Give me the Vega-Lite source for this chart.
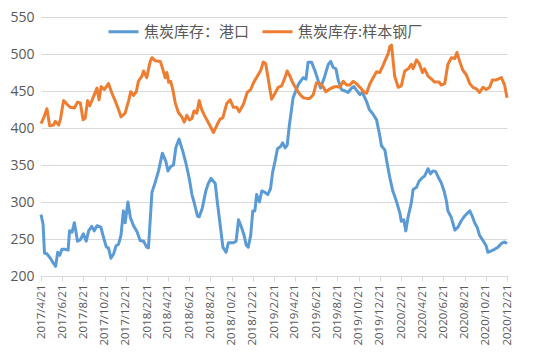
{
  "$schema": "https://vega.github.io/schema/vega-lite/v6.json",
  "autosize": {"type": "none"},
  "padding": {"left": 41, "top": 17, "right": 43, "bottom": 83},
  "width": 466,
  "height": 259,
  "background": "white",
  "config": {"view": {"stroke": null}, "font": "Noto Sans CJK SC"},
  "datasets": {
    "g": [
      {"d":"2017-04-21","v":406},{"d":"2017-04-29","v":414},{"d":"2017-05-08","v":426},{"d":"2017-05-16","v":403},{"d":"2017-05-27","v":404},{"d":"2017-06-01","v":409},{"d":"2017-06-11","v":404},{"d":"2017-06-16","v":412},{"d":"2017-06-25","v":437},{"d":"2017-07-05","v":432},{"d":"2017-07-14","v":428},{"d":"2017-07-26","v":427},{"d":"2017-08-04","v":435},{"d":"2017-08-12","v":434},{"d":"2017-08-20","v":411},{"d":"2017-08-26","v":413},{"d":"2017-09-02","v":437},{"d":"2017-09-08","v":430},{"d":"2017-09-17","v":440},{"d":"2017-09-29","v":454},{"d":"2017-10-05","v":438},{"d":"2017-10-11","v":456},{"d":"2017-10-20","v":452},{"d":"2017-11-01","v":460},{"d":"2017-11-11","v":447},{"d":"2017-11-20","v":437},{"d":"2017-11-30","v":425},{"d":"2017-12-07","v":415},{"d":"2017-12-19","v":420},{"d":"2017-12-29","v":437},
      {"d":"2018-01-04","v":449},{"d":"2018-01-12","v":444},{"d":"2018-01-20","v":449},{"d":"2018-01-26","v":463},{"d":"2018-02-05","v":470},{"d":"2018-02-10","v":477},{"d":"2018-02-19","v":468},{"d":"2018-03-01","v":490},{"d":"2018-03-06","v":495},{"d":"2018-03-15","v":491},{"d":"2018-03-30","v":490},{"d":"2018-04-06","v":480},{"d":"2018-04-13","v":468},{"d":"2018-04-18","v":475},{"d":"2018-04-23","v":462},{"d":"2018-04-29","v":463},{"d":"2018-05-05","v":452},{"d":"2018-05-12","v":434},{"d":"2018-05-21","v":421},{"d":"2018-05-31","v":415},{"d":"2018-06-07","v":408},{"d":"2018-06-14","v":417},{"d":"2018-06-22","v":411},{"d":"2018-06-29","v":413},{"d":"2018-07-05","v":423},{"d":"2018-07-13","v":420},{"d":"2018-07-20","v":437},{"d":"2018-07-27","v":425},{"d":"2018-08-03","v":418},{"d":"2018-08-11","v":411},{"d":"2018-08-20","v":403},{"d":"2018-08-30","v":394},{"d":"2018-09-10","v":405},{"d":"2018-09-18","v":412},{"d":"2018-09-26","v":414},{"d":"2018-10-07","v":433},{"d":"2018-10-17","v":438},{"d":"2018-10-26","v":428},{"d":"2018-11-05","v":428},{"d":"2018-11-12","v":422},{"d":"2018-11-24","v":432},{"d":"2018-12-05","v":448},{"d":"2018-12-15","v":452},{"d":"2018-12-24","v":462},
      {"d":"2019-01-03","v":470},{"d":"2019-01-13","v":478},{"d":"2019-01-20","v":489},{"d":"2019-01-27","v":487},{"d":"2019-02-04","v":465},{"d":"2019-02-13","v":439},{"d":"2019-02-23","v":447},{"d":"2019-03-04","v":455},{"d":"2019-03-14","v":457},{"d":"2019-03-21","v":465},{"d":"2019-03-30","v":477},{"d":"2019-04-07","v":470},{"d":"2019-04-16","v":460},{"d":"2019-04-26","v":452},{"d":"2019-05-06","v":445},{"d":"2019-05-15","v":441},{"d":"2019-05-25","v":440},{"d":"2019-06-03","v":440},{"d":"2019-06-13","v":445},{"d":"2019-06-22","v":461},{"d":"2019-07-02","v":460},{"d":"2019-07-12","v":455},{"d":"2019-07-19","v":449},{"d":"2019-07-31","v":453},{"d":"2019-08-09","v":455},{"d":"2019-08-19","v":456},{"d":"2019-08-28","v":455},{"d":"2019-09-07","v":463},{"d":"2019-09-17","v":458},{"d":"2019-09-26","v":458},{"d":"2019-10-06","v":463},{"d":"2019-10-15","v":460},{"d":"2019-10-25","v":455},{"d":"2019-11-05","v":449},{"d":"2019-11-13","v":447},{"d":"2019-11-23","v":460},{"d":"2019-12-02","v":468},{"d":"2019-12-12","v":476},{"d":"2019-12-21","v":475},{"d":"2019-12-31","v":485},
      {"d":"2020-01-09","v":495},{"d":"2020-01-14","v":500},{"d":"2020-01-19","v":510},{"d":"2020-01-24","v":512},{"d":"2020-02-02","v":470},{"d":"2020-02-12","v":455},{"d":"2020-02-21","v":457},{"d":"2020-03-02","v":477},{"d":"2020-03-12","v":480},{"d":"2020-03-21","v":486},{"d":"2020-03-26","v":480},{"d":"2020-04-05","v":492},{"d":"2020-04-12","v":488},{"d":"2020-04-22","v":475},{"d":"2020-04-28","v":480},{"d":"2020-05-08","v":470},{"d":"2020-05-18","v":466},{"d":"2020-05-27","v":462},{"d":"2020-06-09","v":462},{"d":"2020-06-15","v":458},{"d":"2020-06-25","v":460},{"d":"2020-07-04","v":486},{"d":"2020-07-14","v":495},{"d":"2020-07-24","v":494},{"d":"2020-07-30","v":502},{"d":"2020-08-07","v":490},{"d":"2020-08-16","v":478},{"d":"2020-08-26","v":472},{"d":"2020-09-05","v":460},{"d":"2020-09-14","v":455},{"d":"2020-09-24","v":453},{"d":"2020-10-03","v":448},{"d":"2020-10-13","v":455},{"d":"2020-10-22","v":452},{"d":"2020-11-01","v":455},{"d":"2020-11-09","v":465},{"d":"2020-11-20","v":465},{"d":"2020-11-30","v":467},{"d":"2020-12-05","v":468},{"d":"2020-12-14","v":458},{"d":"2020-12-21","v":441}
    ],
    "p": [
      {"d":"2017-04-21","v":283},{"d":"2017-04-27","v":270},{"d":"2017-05-01","v":231},{"d":"2017-05-08","v":230},{"d":"2017-05-18","v":224},{"d":"2017-05-27","v":217},{"d":"2017-06-02","v":213},{"d":"2017-06-08","v":232},{"d":"2017-06-14","v":228},{"d":"2017-06-20","v":236},{"d":"2017-06-30","v":236},{"d":"2017-07-08","v":235},{"d":"2017-07-12","v":261},{"d":"2017-07-19","v":259},{"d":"2017-07-26","v":272},{"d":"2017-08-04","v":247},{"d":"2017-08-12","v":249},{"d":"2017-08-21","v":257},{"d":"2017-08-29","v":247},{"d":"2017-09-05","v":261},{"d":"2017-09-14","v":267},{"d":"2017-09-21","v":261},{"d":"2017-09-29","v":268},{"d":"2017-10-10","v":266},{"d":"2017-10-18","v":252},{"d":"2017-10-26","v":239},{"d":"2017-11-01","v":238},{"d":"2017-11-08","v":224},{"d":"2017-11-16","v":230},{"d":"2017-11-23","v":241},{"d":"2017-11-30","v":243},{"d":"2017-12-07","v":255},{"d":"2017-12-14","v":288},{"d":"2017-12-19","v":272},{"d":"2017-12-27","v":300},
      {"d":"2018-01-03","v":279},{"d":"2018-01-12","v":268},{"d":"2018-01-22","v":260},{"d":"2018-01-31","v":248},{"d":"2018-02-10","v":247},{"d":"2018-02-19","v":239},{"d":"2018-02-24","v":238},{"d":"2018-03-06","v":313},{"d":"2018-03-15","v":326},{"d":"2018-03-25","v":342},{"d":"2018-04-05","v":366},{"d":"2018-04-15","v":355},{"d":"2018-04-21","v":342},{"d":"2018-04-29","v":348},{"d":"2018-05-07","v":350},{"d":"2018-05-14","v":374},{"d":"2018-05-23","v":385},{"d":"2018-06-03","v":368},{"d":"2018-06-12","v":352},{"d":"2018-06-22","v":330},{"d":"2018-06-29","v":310},{"d":"2018-07-05","v":300},{"d":"2018-07-15","v":281},{"d":"2018-07-20","v":280},{"d":"2018-07-29","v":292},{"d":"2018-08-08","v":315},{"d":"2018-08-15","v":325},{"d":"2018-08-23","v":332},{"d":"2018-09-04","v":325},{"d":"2018-09-10","v":300},{"d":"2018-09-18","v":270},{"d":"2018-09-26","v":239},{"d":"2018-10-05","v":232},{"d":"2018-10-12","v":245},{"d":"2018-10-26","v":245},{"d":"2018-11-03","v":247},{"d":"2018-11-10","v":276},{"d":"2018-11-19","v":265},{"d":"2018-11-26","v":255},{"d":"2018-12-02","v":242},{"d":"2018-12-08","v":239},{"d":"2018-12-15","v":255},{"d":"2018-12-21","v":288},{"d":"2018-12-27","v":288},
      {"d":"2019-01-01","v":310},{"d":"2019-01-09","v":300},{"d":"2019-01-16","v":315},{"d":"2019-01-25","v":313},{"d":"2019-02-02","v":310},{"d":"2019-02-10","v":318},{"d":"2019-02-16","v":340},{"d":"2019-02-23","v":355},{"d":"2019-03-02","v":372},{"d":"2019-03-11","v":375},{"d":"2019-03-17","v":380},{"d":"2019-03-24","v":373},{"d":"2019-03-30","v":377},{"d":"2019-04-05","v":403},{"d":"2019-04-16","v":441},{"d":"2019-05-01","v":459},{"d":"2019-05-15","v":468},{"d":"2019-05-23","v":466},{"d":"2019-05-29","v":489},{"d":"2019-06-08","v":489},{"d":"2019-06-18","v":477},{"d":"2019-06-27","v":464},{"d":"2019-07-04","v":454},{"d":"2019-07-16","v":470},{"d":"2019-07-26","v":486},{"d":"2019-08-02","v":490},{"d":"2019-08-09","v":482},{"d":"2019-08-17","v":480},{"d":"2019-08-24","v":464},{"d":"2019-09-02","v":452},{"d":"2019-09-12","v":450},{"d":"2019-09-21","v":448},{"d":"2019-10-01","v":454},{"d":"2019-10-08","v":456},{"d":"2019-10-17","v":450},{"d":"2019-10-25","v":445},{"d":"2019-11-01","v":448},{"d":"2019-11-13","v":436},{"d":"2019-11-21","v":425},{"d":"2019-11-30","v":420},{"d":"2019-12-12","v":411},{"d":"2019-12-21","v":390},{"d":"2019-12-26","v":376},
      {"d":"2020-01-05","v":370},{"d":"2020-01-11","v":353},{"d":"2020-01-19","v":333},{"d":"2020-01-27","v":316},{"d":"2020-02-07","v":301},{"d":"2020-02-17","v":285},{"d":"2020-02-21","v":274},{"d":"2020-02-28","v":276},{"d":"2020-03-05","v":261},{"d":"2020-03-12","v":281},{"d":"2020-03-21","v":299},{"d":"2020-03-26","v":317},{"d":"2020-04-05","v":320},{"d":"2020-04-12","v":328},{"d":"2020-04-22","v":333},{"d":"2020-04-28","v":335},{"d":"2020-05-08","v":345},{"d":"2020-05-15","v":338},{"d":"2020-05-22","v":342},{"d":"2020-05-30","v":341},{"d":"2020-06-09","v":331},{"d":"2020-06-15","v":326},{"d":"2020-06-23","v":315},{"d":"2020-06-30","v":301},{"d":"2020-07-04","v":288},{"d":"2020-07-14","v":279},{"d":"2020-07-24","v":262},{"d":"2020-08-02","v":266},{"d":"2020-08-12","v":275},{"d":"2020-08-21","v":281},{"d":"2020-09-05","v":288},{"d":"2020-09-12","v":281},{"d":"2020-09-19","v":272},{"d":"2020-09-26","v":266},{"d":"2020-10-03","v":255},{"d":"2020-10-13","v":248},{"d":"2020-10-22","v":241},{"d":"2020-10-27","v":232},{"d":"2020-11-06","v":234},{"d":"2020-11-15","v":236},{"d":"2020-11-25","v":239},{"d":"2020-12-05","v":244},{"d":"2020-12-14","v":246},{"d":"2020-12-21","v":244}
    ]
  },
  "encoding": {
    "x": {
      "field": "d", "type": "temporal", "title": null,
      "scale": {"domain": [{"year": 2017, "month": 4, "date": 21}, {"year": 2020, "month": 12, "date": 21}]},
      "axis": {
        "values": [
          {"year": 2017, "month": 4, "date": 21}, {"year": 2017, "month": 6, "date": 21}, {"year": 2017, "month": 8, "date": 21}, {"year": 2017, "month": 10, "date": 21}, {"year": 2017, "month": 12, "date": 21},
          {"year": 2018, "month": 2, "date": 21}, {"year": 2018, "month": 4, "date": 21}, {"year": 2018, "month": 6, "date": 21}, {"year": 2018, "month": 8, "date": 21}, {"year": 2018, "month": 10, "date": 21}, {"year": 2018, "month": 12, "date": 21},
          {"year": 2019, "month": 2, "date": 21}, {"year": 2019, "month": 4, "date": 21}, {"year": 2019, "month": 6, "date": 21}, {"year": 2019, "month": 8, "date": 21}, {"year": 2019, "month": 10, "date": 21}, {"year": 2019, "month": 12, "date": 21},
          {"year": 2020, "month": 2, "date": 21}, {"year": 2020, "month": 4, "date": 21}, {"year": 2020, "month": 6, "date": 21}, {"year": 2020, "month": 8, "date": 21}, {"year": 2020, "month": 10, "date": 21}, {"year": 2020, "month": 12, "date": 21}
        ],
        "format": "%Y/%-m/%-d",
        "labelAngle": -90,
        "labelFont": "Open Sans",
        "labelFontSize": 11.5,
        "labelColor": "#595959",
        "labelPadding": 3,
        "labelOverlap": false,
        "labelFlush": false,
        "grid": false,
        "domainColor": "#d9d9d9",
        "tickColor": "#d9d9d9",
        "tickSize": 5
      }
    },
    "y": {
      "field": "v", "type": "quantitative", "title": null,
      "scale": {"domain": [200, 550], "nice": false, "zero": false},
      "axis": {
        "values": [200, 250, 300, 350, 400, 450, 500, 550],
        "labelFont": "Open Sans",
        "labelFontSize": 14,
        "labelColor": "#595959",
        "labelPadding": 7,
        "domain": false,
        "ticks": false,
        "gridColor": "#d9d9d9",
        "gridWidth": 1
      }
    }
  },
  "layer": [
    {
      "data": {"name": "p", "format": {"parse": {"d": "date:'%Y-%m-%d'"}}},
      "mark": {"type": "line", "strokeWidth": 3, "strokeJoin": "round"},
      "encoding": {
        "color": {
          "datum": "焦炭库存：港口",
          "type": "nominal",
          "scale": {"domain": ["焦炭库存：港口", "焦炭库存:样本钢厂"], "range": ["#5B9BD5", "#ED7D31"]},
          "legend": {
            "title": null,
            "orient": "none",
            "direction": "horizontal",
            "legendX": 66,
            "legendY": -2,
            "symbolType": "stroke",
            "symbolStrokeWidth": 3,
            "symbolSize": 900,
            "labelFont": "Noto Sans CJK SC",
            "labelFontSize": 15,
            "labelColor": "#595959",
            "labelOffset": 4,
            "columnPadding": 6,
            "labelLimit": 300
          }
        }
      }
    },
    {
      "data": {"name": "g", "format": {"parse": {"d": "date:'%Y-%m-%d'"}}},
      "mark": {"type": "line", "strokeWidth": 3, "strokeJoin": "round"},
      "encoding": {
        "color": {"datum": "焦炭库存:样本钢厂", "type": "nominal"}
      }
    }
  ]
}
